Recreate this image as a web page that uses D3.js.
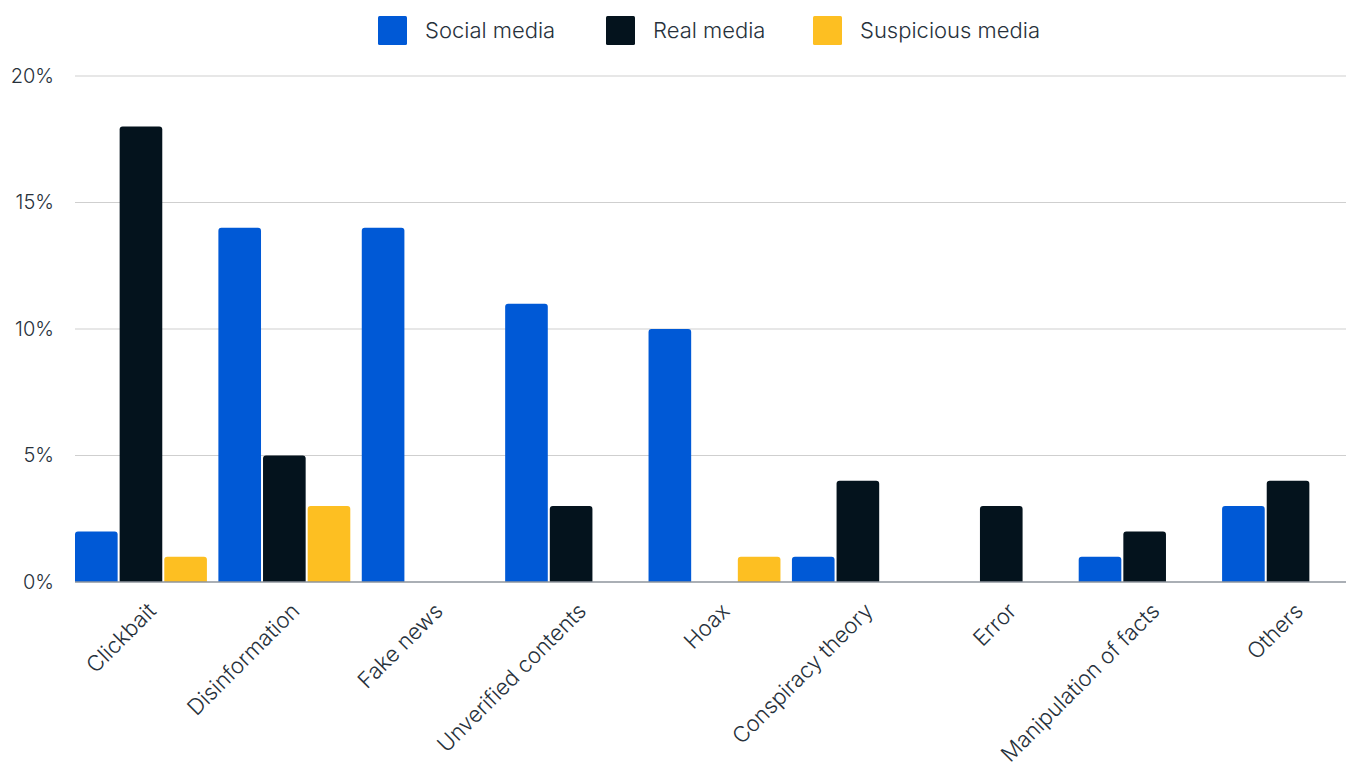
<!DOCTYPE html>
<html>
<head>
<meta charset="utf-8">
<script src="https://cdn.jsdelivr.net/npm/d3@7"></script>
<style>
  html, body { margin: 0; padding: 0; background: #ffffff; }
  svg { display: block; font-family: "Inter", "Lato", sans-serif; }
</style>
</head>
<body>
<svg id="chart" width="1346" height="767"></svg>
<script>
// Categories along the x axis
const categories = [
  "Clickbait", "Disinformation", "Fake news", "Unverified contents", "Hoax",
  "Conspiracy theory", "Error", "Manipulation of facts", "Others"
];
// Series (percent of items per category)
const seriesNames = ["Social media", "Real media", "Suspicious media"];
const socialMedia     = [2, 14, 14, 11, 10, 1, 0, 1, 3];
const realMedia       = [18, 5, 0, 3, 0, 4, 3, 2, 4];
const suspiciousMedia = [1, 3, 0, 0, 1, 0, 0, 0, 0];
const seriesColors = ["#0059d6", "#04131d", "#fdbf22"];
const yTicks = [0, 5, 10, 15, 20];

const seriesValues = [socialMedia, realMedia, suspiciousMedia];
const rows = categories.map((c, i) => ({
  category: c,
  values: seriesNames.map((s, j) => ({ series: s, idx: j, value: seriesValues[j][i] }))
}));

const svg = d3.select("#chart");
const plotLeft = 75, plotRight = 1346, plotTop = 76, plotBottom = 582;

const x0 = d3.scaleBand().domain(categories).range([plotLeft, 1354]).paddingInner(0.08).paddingOuter(0);
const x1 = d3.scaleBand().domain(seriesNames).range([0, x0.bandwidth()]).paddingInner(0.045).paddingOuter(0);
const y = d3.scaleLinear().domain([0, 20]).range([plotBottom, plotTop]);

// Horizontal gridlines
svg.append("g")
  .selectAll("line")
  .data(yTicks.filter(t => t > 0))
  .join("line")
  .attr("x1", plotLeft).attr("x2", plotRight)
  .attr("y1", d => y(d)).attr("y2", d => y(d))
  .attr("stroke", "#cfcfcf").attr("stroke-width", 1);

// Y axis labels
const yAxis = d3.axisLeft(y).tickValues(yTicks).tickFormat(d => d + "%").tickSize(0).tickPadding(0);
svg.append("g")
  .attr("transform", `translate(${54},0)`)
  .call(yAxis)
  .call(g => g.select(".domain").remove())
  .call(g => g.selectAll("text")
    .attr("font-size", 20)
    .attr("font-family", "Inter, Lato, sans-serif")
    .attr("font-weight", 300)
    .attr("fill", "#27313b"));

// Rounded-top bar path
function barPath(x, yTop, w, h, r) {
  if (h <= 0) return "";
  r = Math.min(r, h, w / 2);
  const yb = yTop + h;
  return `M${x},${yb}V${yTop + r}Q${x},${yTop} ${x + r},${yTop}H${x + w - r}Q${x + w},${yTop} ${x + w},${yTop + r}V${yb}Z`;
}

// Bars
const groups = svg.append("g")
  .selectAll("g")
  .data(rows)
  .join("g")
  .attr("transform", d => `translate(${x0(d.category)},0)`);

groups.selectAll("path")
  .data(d => d.values)
  .join("path")
  .attr("d", d => barPath(x1(d.series), y(d.value), x1.bandwidth(), y(0) - y(d.value), 3))
  .attr("fill", d => seriesColors[d.idx]);

// Baseline
svg.append("line")
  .attr("x1", plotLeft).attr("x2", plotRight)
  .attr("y1", y(0)).attr("y2", y(0))
  .attr("stroke", "#8e959c").attr("stroke-width", 1.5);

// X axis labels, rotated
const xAxis = d3.axisBottom(x0).tickSize(0).tickPadding(0);
svg.append("g")
  .attr("transform", `translate(0,${plotBottom})`)
  .call(xAxis)
  .call(g => g.select(".domain").remove())
  .call(g => g.selectAll("text")
    .attr("font-size", 22)
    .attr("font-family", "Inter, Lato, sans-serif")
    .attr("font-weight", 300)
    .attr("fill", "#27313b")
    .attr("text-anchor", "end")
    .attr("dy", "0.35em")
    .attr("transform", "translate(11,25) rotate(-45)"));

// Legend
const legendX = [378, 606, 813];
const legend = svg.append("g")
  .selectAll("g")
  .data(seriesNames)
  .join("g")
  .attr("transform", (d, i) => `translate(${legendX[i]},16)`);
legend.append("rect")
  .attr("width", 29).attr("height", 29).attr("rx", 1.5)
  .attr("fill", (d, i) => seriesColors[i]);
legend.append("text")
  .attr("x", 47).attr("y", 22)
  .attr("font-size", 22)
  .attr("font-weight", 300)
  .attr("fill", "#27313b")
  .text(d => d);
</script>
</body>
</html>
